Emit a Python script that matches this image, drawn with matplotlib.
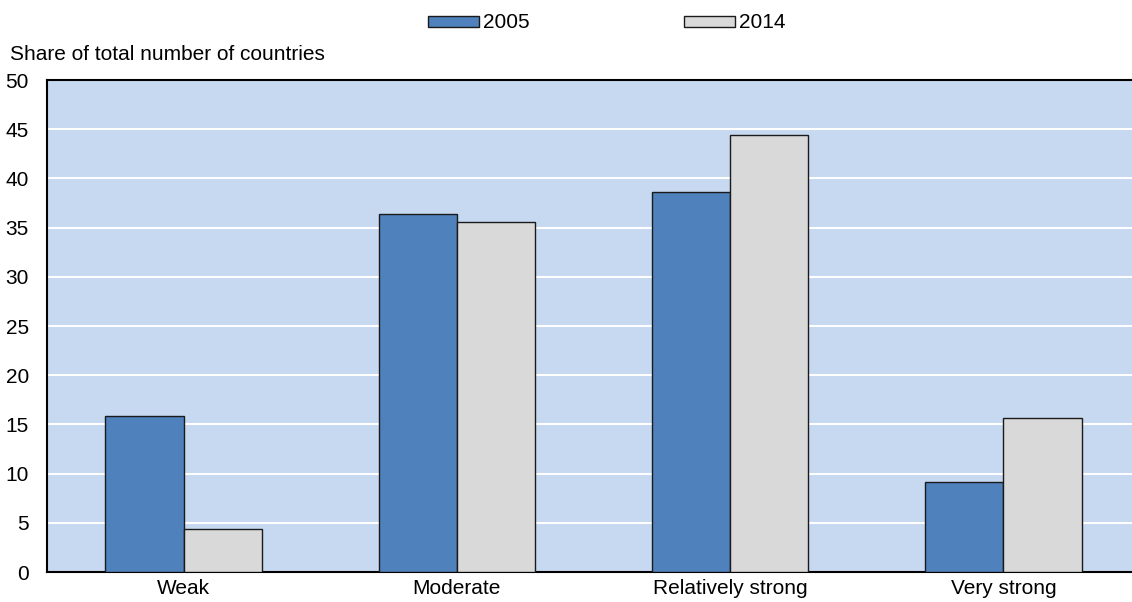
import matplotlib
matplotlib.use("Agg")
import matplotlib.pyplot as plt
import numpy as np

plt.rcParams['font.family'] = ['Liberation Sans', 'DejaVu Sans']

categories = ["Weak", "Moderate", "Relatively strong", "Very strong"]
series_names = ["2005", "2014"]
values_2005 = [15.9, 36.4, 38.6, 9.1]
values_2014 = [4.4, 35.6, 44.4, 15.6]
yticks = [0, 5, 10, 15, 20, 25, 30, 35, 40, 45, 50]

fs = 15
fig = plt.figure(figsize=(11.32, 6.02), dpi=100)
ax = fig.add_axes([47/1132, 30/602, 1093/1132, (572-80)/602])
ax.set_facecolor('#C6D9F1')

x = np.arange(len(categories))
w = 0.286
b1 = ax.bar(x - w/2, values_2005, w, color='#4F81BD', edgecolor='#1a1a1a', linewidth=1, label=series_names[0], zorder=3)
b2 = ax.bar(x + w/2, values_2014, w, color='#D9D9D9', edgecolor='#1a1a1a', linewidth=1, label=series_names[1], zorder=3)

ax.set_xlim(-0.5, len(categories) - 0.5)
ax.set_ylim(0, 50)
ax.set_yticks(yticks)
ax.set_xticks(x)
ax.set_xticklabels(categories)
ax.yaxis.grid(True, color='white', linewidth=1.5, zorder=1)
ax.set_axisbelow(True)
ax.tick_params(axis='both', length=0, labelsize=fs, colors='black')
ax.tick_params(axis='y', pad=13)
ax.tick_params(axis='x', pad=5)
ax.spines['right'].set_visible(False)
for s in ['left', 'top', 'bottom']:
    ax.spines[s].set_linewidth(1.5)
    ax.spines[s].set_color('black')

fig.text(10/1132, 1 - 54/602, "Share of total number of countries", fontsize=fs, ha='left', va='center')

leg = fig.legend(handles=[b1, b2], labels=series_names, loc='center', bbox_to_anchor=(607/1132, 1 - 23/602),
                 ncol=2, frameon=False, fontsize=fs, handlelength=2.45, handleheight=0.43,
                 handletextpad=0.2, columnspacing=7.4, borderaxespad=0)

fig.savefig("out.png", dpi=100)
